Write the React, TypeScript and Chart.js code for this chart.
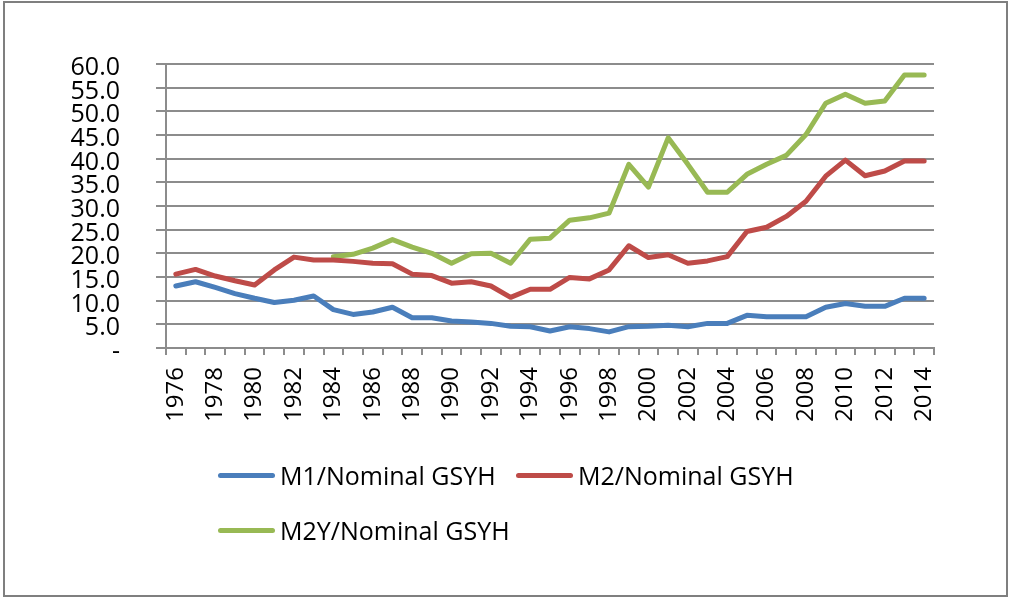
import React, { useEffect, useRef } from "react";
import { Chart, registerables } from "chart.js";

Chart.register(...registerables);

const years: string[] = [
  "1976", "1977", "1978", "1979", "1980", "1981", "1982", "1983", "1984", "1985",
  "1986", "1987", "1988", "1989", "1990", "1991", "1992", "1993", "1994", "1995",
  "1996", "1997", "1998", "1999", "2000", "2001", "2002", "2003", "2004", "2005",
  "2006", "2007", "2008", "2009", "2010", "2011", "2012", "2013", "2014",
];

const m1: number[] = [
  13.1, 14.0, 12.8, 11.5, 10.5, 9.6, 10.1, 11.0, 8.1, 7.1,
  7.6, 8.6, 6.4, 6.4, 5.7, 5.5, 5.2, 4.6, 4.5, 3.6,
  4.5, 4.1, 3.4, 4.5, 4.6, 4.8, 4.5, 5.2, 5.2, 6.9,
  6.6, 6.6, 6.6, 8.6, 9.4, 8.8, 8.8, 10.5, 10.5,
];

const m2: number[] = [
  15.6, 16.6, 15.2, 14.2, 13.3, 16.5, 19.2, 18.6, 18.6, 18.3,
  17.9, 17.8, 15.6, 15.3, 13.7, 14.0, 13.1, 10.7, 12.4, 12.4,
  14.9, 14.6, 16.5, 21.6, 19.1, 19.7, 17.9, 18.4, 19.3, 24.6,
  25.5, 27.8, 31.0, 36.3, 39.7, 36.4, 37.4, 39.5, 39.5,
];

const m2y: (number | null)[] = [
  null, null, null, null, null, null, null, null, 19.3, 19.8,
  21.1, 22.9, 21.3, 20.0, 17.9, 19.9, 20.0, 17.9, 23.0, 23.2,
  27.0, 27.5, 28.5, 38.8, 34.0, 44.4, 38.8, 32.9, 32.9, 36.7,
  38.8, 40.7, 45.1, 51.7, 53.6, 51.7, 52.2, 57.7, 57.7,
];

const seriesLabels = ["M1/Nominal GSYH", "M2/Nominal GSYH", "M2Y/Nominal GSYH"];
const seriesColors = ["#4a7ebb", "#be4b48", "#98b954"];

const FONT = "'Open Sans', 'DejaVu Sans', sans-serif";
const GRID = "#8c8c8c";

export default function App() {
  const canvasRef = useRef<HTMLCanvasElement | null>(null);

  useEffect(() => {
    if (!canvasRef.current) return;
    const values = [m1, m2, m2y];
    const chart = new Chart(canvasRef.current, {
      type: "line",
      data: {
        labels: years,
        datasets: values.map((v, i) => ({
          label: seriesLabels[i],
          data: v,
          borderColor: seriesColors[i],
          backgroundColor: seriesColors[i],
          borderWidth: 5,
          pointRadius: 0,
          tension: 0,
          borderJoinStyle: "round" as const,
          borderCapStyle: "round" as const,
          spanGaps: false,
        })),
      },
      options: {
        animation: false,
        responsive: true,
        maintainAspectRatio: false,
        layout: { padding: { left: 0, top: 64, right: 76, bottom: 0 } },
        plugins: {
          legend: { display: false },
          tooltip: { enabled: false },
        },
        scales: {
          x: {
            type: "category",
            offset: true,
            afterFit: (s: any) => {
              s.height = 249;
            },
            grid: {
              offset: true,
              drawOnChartArea: false,
              drawTicks: true,
              tickLength: 7,
              color: GRID,
              lineWidth: 2,
            },
            border: { color: GRID, width: 2 },
            ticks: {
              autoSkip: false,
              minRotation: 90,
              maxRotation: 90,
              padding: 12,
              color: "#000",
              font: { family: FONT, size: 24 },
              callback: (_v: any, i: number) => (i % 2 === 0 ? years[i] : ""),
            },
          },
          y: {
            min: 0,
            max: 60,
            afterFit: (s: any) => {
              s.width = 166;
            },
            grid: {
              color: GRID,
              lineWidth: 2,
              drawTicks: true,
              tickLength: 10,
            },
            border: { color: GRID, width: 2 },
            ticks: {
              stepSize: 5,
              autoSkip: false,
              padding: 36,
              labelOffset: 4,
              color: "#000",
              font: { family: FONT, size: 25 },
              callback: (v: any) => (Number(v) === 0 ? "-" : Number(v).toFixed(1)),
            },
          },
        },
      },
    });
    return () => chart.destroy();
  }, []);

  const legendRows = [
    [
      { idx: 0, x: 218 },
      { idx: 1, x: 516 },
    ],
    [{ idx: 2, x: 218 }],
  ];
  const rowY = [475, 530];

  return (
    <div style={{ position: "absolute", left: 0, top: 0, width: 1010, height: 597, background: "#fff" }}>
      <div style={{ position: "absolute", left: 0, top: 0, width: 1010, height: 597 }}>
        <canvas ref={canvasRef} />
      </div>
      <div
        style={{
          position: "absolute",
          left: 3,
          top: 1,
          width: 1005,
          height: 596,
          boxSizing: "border-box",
          border: "2px solid #7f7f7f",
          pointerEvents: "none",
        }}
      />
      {legendRows.map((row, r) =>
        row.map((item) => (
          <div
            key={item.idx}
            style={{
              position: "absolute",
              left: item.x,
              top: rowY[r] - 17,
              height: 34,
              display: "flex",
              alignItems: "center",
              fontFamily: FONT,
              fontSize: 25,
              color: "#000",
              whiteSpace: "nowrap",
            }}
          >
            <span
              style={{
                display: "inline-block",
                width: 57,
                height: 5,
                borderRadius: 3,
                background: seriesColors[item.idx],
                marginRight: 5,
              }}
            />
            <span>{seriesLabels[item.idx]}</span>
          </div>
        ))
      )}
    </div>
  );
}
